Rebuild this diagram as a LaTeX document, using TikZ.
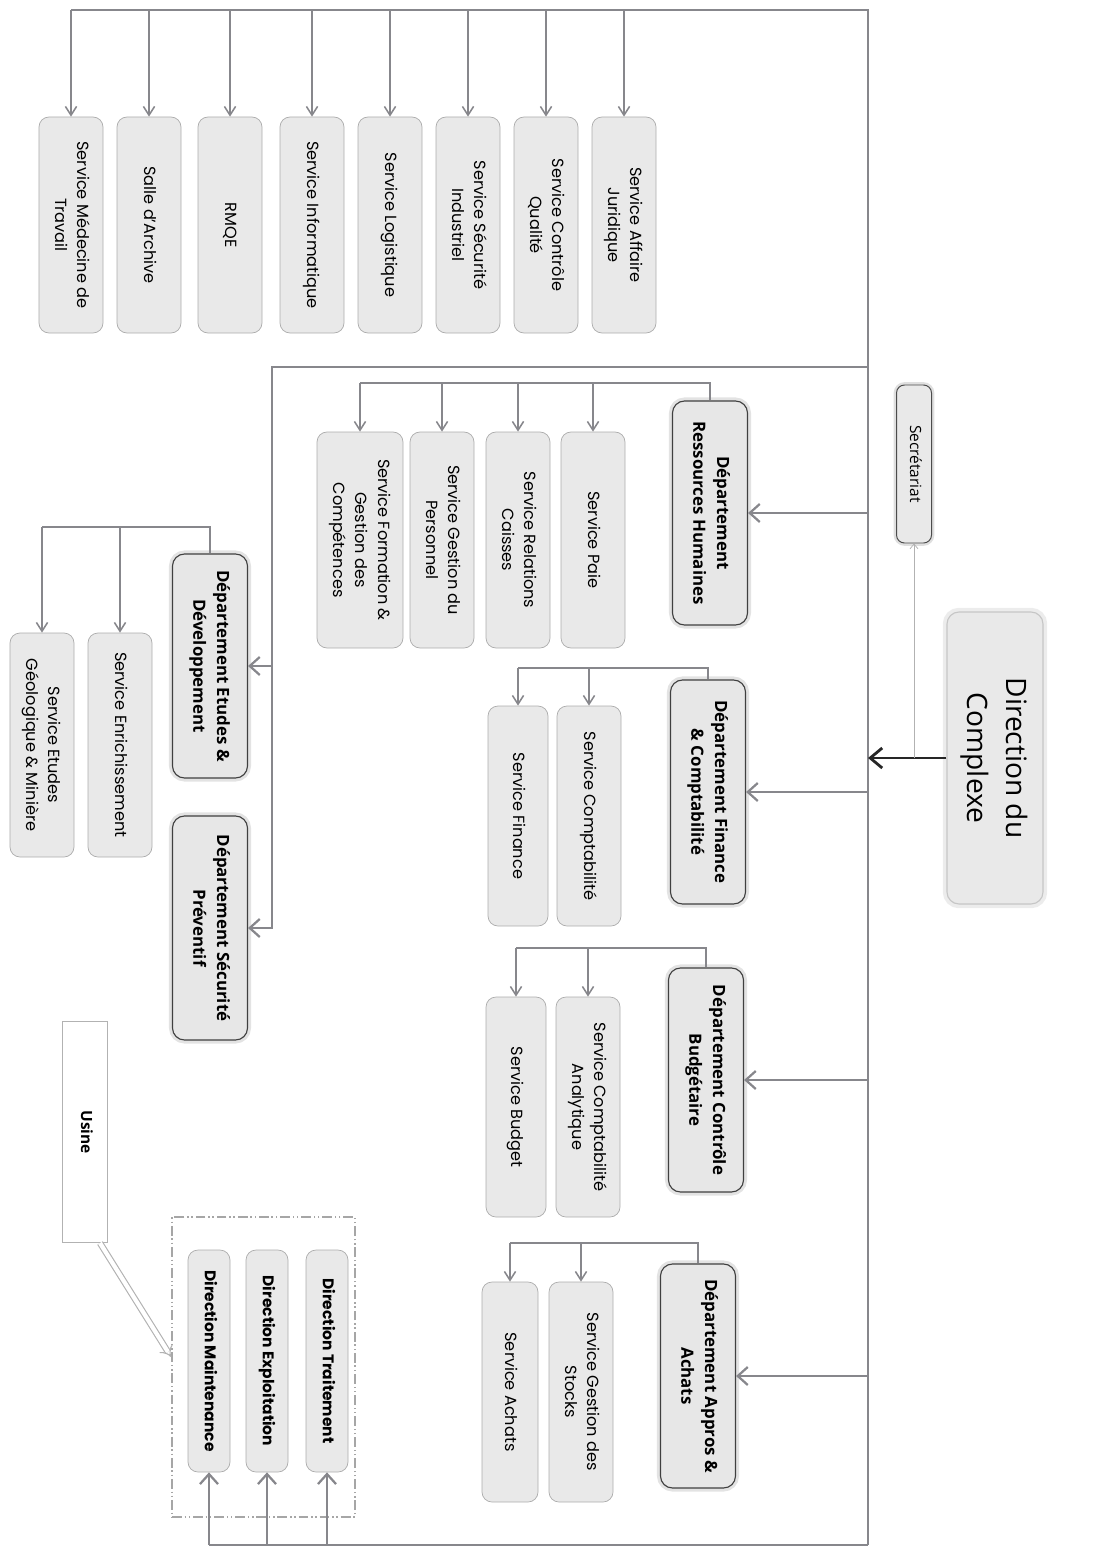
\documentclass[tikz,border=0pt]{standalone}
\usepackage{fontspec}
\usepackage{graphicx}
\usetikzlibrary{arrows.meta}
\newfontfamily\svcfont{Poppins}
\newfontfamily\deptfont{Open Sans}
\definecolor{linegray}{RGB}{135,135,140}

% vertical label, read from top to bottom
\newcommand{\vlabel}[1]{\rotatebox{-90}{\begin{tabular}{@{}c@{}}#1\end{tabular}}}

\tikzset{
  svcbox/.style={draw=gray!65, line width=0.5pt, fill=gray!17, rounded corners=2.5mm,
    minimum width=16mm, minimum height=55mm, inner sep=0pt,
    font=\svcfont\fontsize{11.5}{16}\selectfont},
  deptbox/.style={draw=black!75, line width=0.8pt, fill=gray!19, rounded corners=3mm,
    minimum width=18.75mm, minimum height=56mm, inner sep=0pt,
    preaction={draw=gray!22, line width=5pt},
    font=\deptfont\bfseries\fontsize{12}{17}\selectfont},
  usinedir/.style={svcbox, minimum width=10.5mm, minimum height=55.5mm,
    font=\svcfont\bfseries\fontsize{11}{15}\selectfont},
  mainline/.style={draw=linegray, line width=1.6pt},
  svcline/.style={draw=linegray, line width=1.1pt},
  svcarrow/.style={svcline, -{Straight Barb[length=2.2mm, width=2.8mm]}},
  deptarrow/.style={mainline, -{Straight Barb[length=2.5mm, width=4.5mm]}},
  dirarrow/.style={draw=black!85, line width=2pt, -{Straight Barb[length=3mm, width=5mm]}},
  groupbox/.style={draw=gray!70, line width=1.2pt,
    dash pattern=on 7pt off 2pt on 1pt off 2pt on 1pt off 2pt,
    minimum width=45.75mm, minimum height=75mm}
}

\begin{document}
\begin{tikzpicture}[x=0.25mm, y=-0.25mm]
    \useasboundingbox (0,0) rectangle (1101,1550);

    % Direction du Complexe and Secretariat
    \node[draw=gray!45, fill=gray!17, rounded corners=3mm, line width=0.8pt,
          preaction={draw=gray!15, line width=6pt},
          minimum width=24mm, minimum height=73mm,
          font=\deptfont\fontsize{20}{28}\selectfont] (dCom) at (995,758) {\vlabel{Direction du\\Complexe}};
    \node[draw=black!70, fill=gray!17, rounded corners=2mm, line width=0.7pt,
          preaction={draw=gray!25, line width=4pt},
          minimum width=8.75mm, minimum height=39.5mm,
          font=\deptfont\fontsize{11}{14}\selectfont] (sSecr) at (914,464) {\vlabel{Secrétariat}};

    % Main lines
    \coordinate (topL) at (71,10);
    \coordinate (topR) at (868,10);
    \coordinate (botR) at (868,1545);
    \coordinate (midR) at (868,367);
    \coordinate (midL) at (272,367);
    \draw[mainline] (topL) -- (topR) -- (botR);
    \draw[dirarrow] (dCom.west) -- (dCom.west -| topR);
    \draw[draw=gray!60, line width=0.5pt, -{Straight Barb[length=1.2mm, width=2mm]}]
        (dCom.west -| sSecr.south) -- (sSecr.south);

    % Services rattaches a la Direction
    \node[svcbox, minimum height=54mm] (sMed) at (71,225)  {\vlabel{Service Médecine de\\Travail}};
    \node[svcbox, minimum height=54mm] (sArc) at (149,225) {\vlabel{Salle d’Archive}};
    \node[svcbox, minimum height=54mm] (sRmq) at (230,225) {\vlabel{RMQE}};
    \node[svcbox, minimum height=54mm] (sInf) at (312,225) {\vlabel{Service Informatique}};
    \node[svcbox, minimum height=54mm] (sLog) at (390,225) {\vlabel{Service Logistique}};
    \node[svcbox, minimum height=54mm] (sSin) at (468,225) {\vlabel{Service Sécurité\\Industriel}};
    \node[svcbox, minimum height=54mm] (sCqu) at (546,225) {\vlabel{Service Contrôle\\Qualité}};
    \node[svcbox, minimum height=54mm] (sAju) at (624,225) {\vlabel{Service Affaire\\Juridique}};
    \foreach \n in {sMed,sArc,sRmq,sInf,sLog,sSin,sCqu,sAju} {
        \draw[svcarrow] (\n.north |- topR) -- (\n.north);
    }

    % Departement Ressources Humaines
    \node[deptbox] (dRH) at (710,513) {\vlabel{Département\\Ressources Humaines}};
    \node[svcbox, minimum width=21.5mm, minimum height=54mm] (sForm) at (360,540) {\vlabel{Service Formation \&\\Gestion des\\Compétences}};
    \node[svcbox, minimum height=54mm] (sPers) at (442,540) {\vlabel{Service Gestion du\\Personnel}};
    \node[svcbox, minimum height=54mm] (sRel)  at (518,540) {\vlabel{Service Relations\\Caisses}};
    \node[svcbox, minimum height=54mm] (sPaie) at (593,540) {\vlabel{Service Paie}};
    \draw[deptarrow] (dRH.east -| topR) -- (dRH.east);
    \coordinate (rhBus) at (710,383);
    \draw[svcline] (dRH.north) -- (rhBus) -- (rhBus -| sForm.north);
    \foreach \n in {sForm,sPers,sRel,sPaie} {
        \draw[svcarrow] (rhBus -| \n.north) -- (\n.north);
    }

    % Departement Finance & Comptabilite
    \node[deptbox] (dFin) at (708,792) {\vlabel{Département Finance\\\& Comptabilité}};
    \node[svcbox] (sCpt) at (589,816) {\vlabel{Service Comptabilité}};
    \node[svcbox, minimum width=15mm] (sFin) at (518,816) {\vlabel{Service Finance}};
    \draw[deptarrow] (dFin.east -| topR) -- (dFin.east);
    \coordinate (finBus) at (708,668);
    \draw[svcline] (dFin.north) -- (finBus) -- (finBus -| sFin.north);
    \foreach \n in {sCpt,sFin} {
        \draw[svcarrow] (finBus -| \n.north) -- (\n.north);
    }

    % Departement Controle Budgetaire
    \node[deptbox] (dBud) at (706,1080) {\vlabel{Département Contrôle\\Budgétaire}};
    \node[svcbox] (sAna) at (588,1107) {\vlabel{Service Comptabilité\\Analytique}};
    \node[svcbox, minimum width=15mm] (sBud) at (516,1107) {\vlabel{Service Budget}};
    \draw[deptarrow] (dBud.east -| topR) -- (dBud.east);
    \coordinate (budBus) at (706,948);
    \draw[svcline] (dBud.north) -- (budBus) -- (budBus -| sBud.north);
    \foreach \n in {sAna,sBud} {
        \draw[svcarrow] (budBus -| \n.north) -- (\n.north);
    }

    % Departement Appros & Achats
    \node[deptbox] (dApp) at (698,1376) {\vlabel{Département Appros \&\\Achats}};
    \node[svcbox] (sSto) at (581,1392) {\vlabel{Service Gestion des\\Stocks}};
    \node[svcbox, minimum width=14mm] (sAch) at (510,1392) {\vlabel{Service Achats}};
    \draw[deptarrow] (dApp.east -| topR) -- (dApp.east);
    \coordinate (appBus) at (698,1243);
    \draw[svcline] (dApp.north) -- (appBus) -- (appBus -| sAch.north);
    \foreach \n in {sSto,sAch} {
        \draw[svcarrow] (appBus -| \n.north) -- (\n.north);
    }

    % Departements Etudes & Securite
    \node[deptbox] (dEtu) at (210,666) {\vlabel{Département Etudes \&\\Développement}};
    \node[deptbox] (dSec) at (210,928) {\vlabel{Département Sécurité\\Préventif}};
    \node[svcbox, minimum height=56mm] (sEnr) at (120,745) {\vlabel{Service Enrichissement}};
    \node[svcbox, minimum height=56mm] (sGeo) at (42,745)  {\vlabel{Service Etudes\\Géologique \& Minière}};
    \draw[deptarrow] (midR) -- (midL) |- (dSec.east);
    \draw[deptarrow] (dEtu.east -| midL) -- (dEtu.east);
    \coordinate (etuBus) at (210,527);
    \draw[svcline] (dEtu.north) -- (etuBus) -- (etuBus -| sGeo.north);
    \foreach \n in {sEnr,sGeo} {
        \draw[svcarrow] (etuBus -| \n.north) -- (\n.north);
    }

    % Usine
    \node[draw=gray!60, fill=white, line width=0.7pt, minimum width=11.25mm, minimum height=55.25mm,
          font=\deptfont\bfseries\fontsize{11}{14}\selectfont] (usine) at (85,1132) {\vlabel{Usine}};
    \node[groupbox] (grp) at (263.5,1367) {};
    \node[usinedir] (dMai) at (209,1361) {\vlabel{Direction Maintenance}};
    \node[usinedir] (dExp) at (267,1361) {\vlabel{Direction Exploitation}};
    \node[usinedir] (dTra) at (327,1361) {\vlabel{Direction Traitement}};
    \draw[draw=gray!60, line width=0.8pt, double=white, double distance=3pt, -{Implies}]
        ([xshift=-2mm]usine.south east) -- ([yshift=2.5mm]grp.west);
    \draw[mainline] (botR) -- (dMai.south |- botR);
    \foreach \n in {dMai,dExp,dTra} {
        \draw[deptarrow] (\n.south |- botR) -- (\n.south);
    }
\end{tikzpicture}
\end{document}
